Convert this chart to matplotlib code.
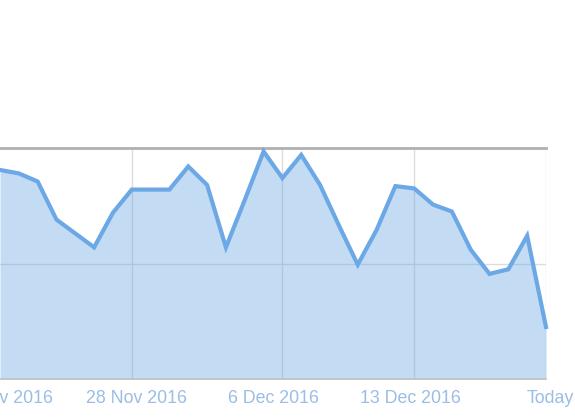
import numpy as np
import pandas as pd
import matplotlib
matplotlib.use("Agg")
import matplotlib.pyplot as plt
from matplotlib.transforms import ScaledTranslation

# daily values, 21 Nov 2016 .. 20 Dec 2016 ("Today")
days = pd.date_range("2016-11-21", "2016-12-20", freq="D")
values = [181, 178, 171, 138, 126, 114, 144, 164, 164, 164,
          184, 168, 114, 155, 197, 174, 194, 168, 133, 99,
          129, 167, 165, 151, 145, 112, 91, 95, 124, 45]

tick_dates = pd.to_datetime(["2016-11-21", "2016-11-28", "2016-12-06",
                             "2016-12-13", "2016-12-20"])
tick_labels = ["21 Nov 2016", "28 Nov 2016", "6 Dec 2016", "13 Dec 2016", "Today"]
grid_dates = tick_dates[1:]
# small label shifts (px) seen in the original
label_shift = [2, 5, -9, -4, 4]

plt.rcParams['font.family'] = ['Liberation Sans', 'DejaVu Sans']

line_col = "#6ba8e5"
label_col = "#9bbde6"

fig = plt.figure(figsize=(5.75, 4.18), dpi=100)
ax = fig.add_axes([0, 39 / 418, 546 / 575, 231 / 418])

ax.fill_between(days, values, 0, color=line_col, alpha=0.4, lw=0, zorder=2)
ax.plot(days, values, color=line_col, lw=3, solid_joinstyle="miter", zorder=3,
        clip_on=False)

for d in grid_dates:
    ax.axvline(d, color="#dcdcdc", lw=1, zorder=1)
ax.axhline(100, color="#dcdcdc", lw=1, zorder=1)

ax.set_xlim(days[0], days[-1])
ax.set_ylim(0, 200)
ax.set_yticks([])
ax.set_xticks(tick_dates)
ax.set_xticklabels(tick_labels)
ax.tick_params(axis="x", length=0, pad=8, labelsize=12.8, labelcolor=label_col)

for lab, dx in zip(ax.get_xticklabels(), label_shift):
    lab.set_transform(lab.get_transform() + ScaledTranslation(dx / 100, 0, fig.dpi_scale_trans))

for side in ["left", "right"]:
    ax.spines[side].set_visible(False)
ax.spines["top"].set_color("#b0b0b0")
ax.spines["top"].set_linewidth(2)
ax.spines["bottom"].set_color("#c0c0c0")
ax.spines["bottom"].set_linewidth(1.2)

fig.savefig("out.png", dpi=100)
